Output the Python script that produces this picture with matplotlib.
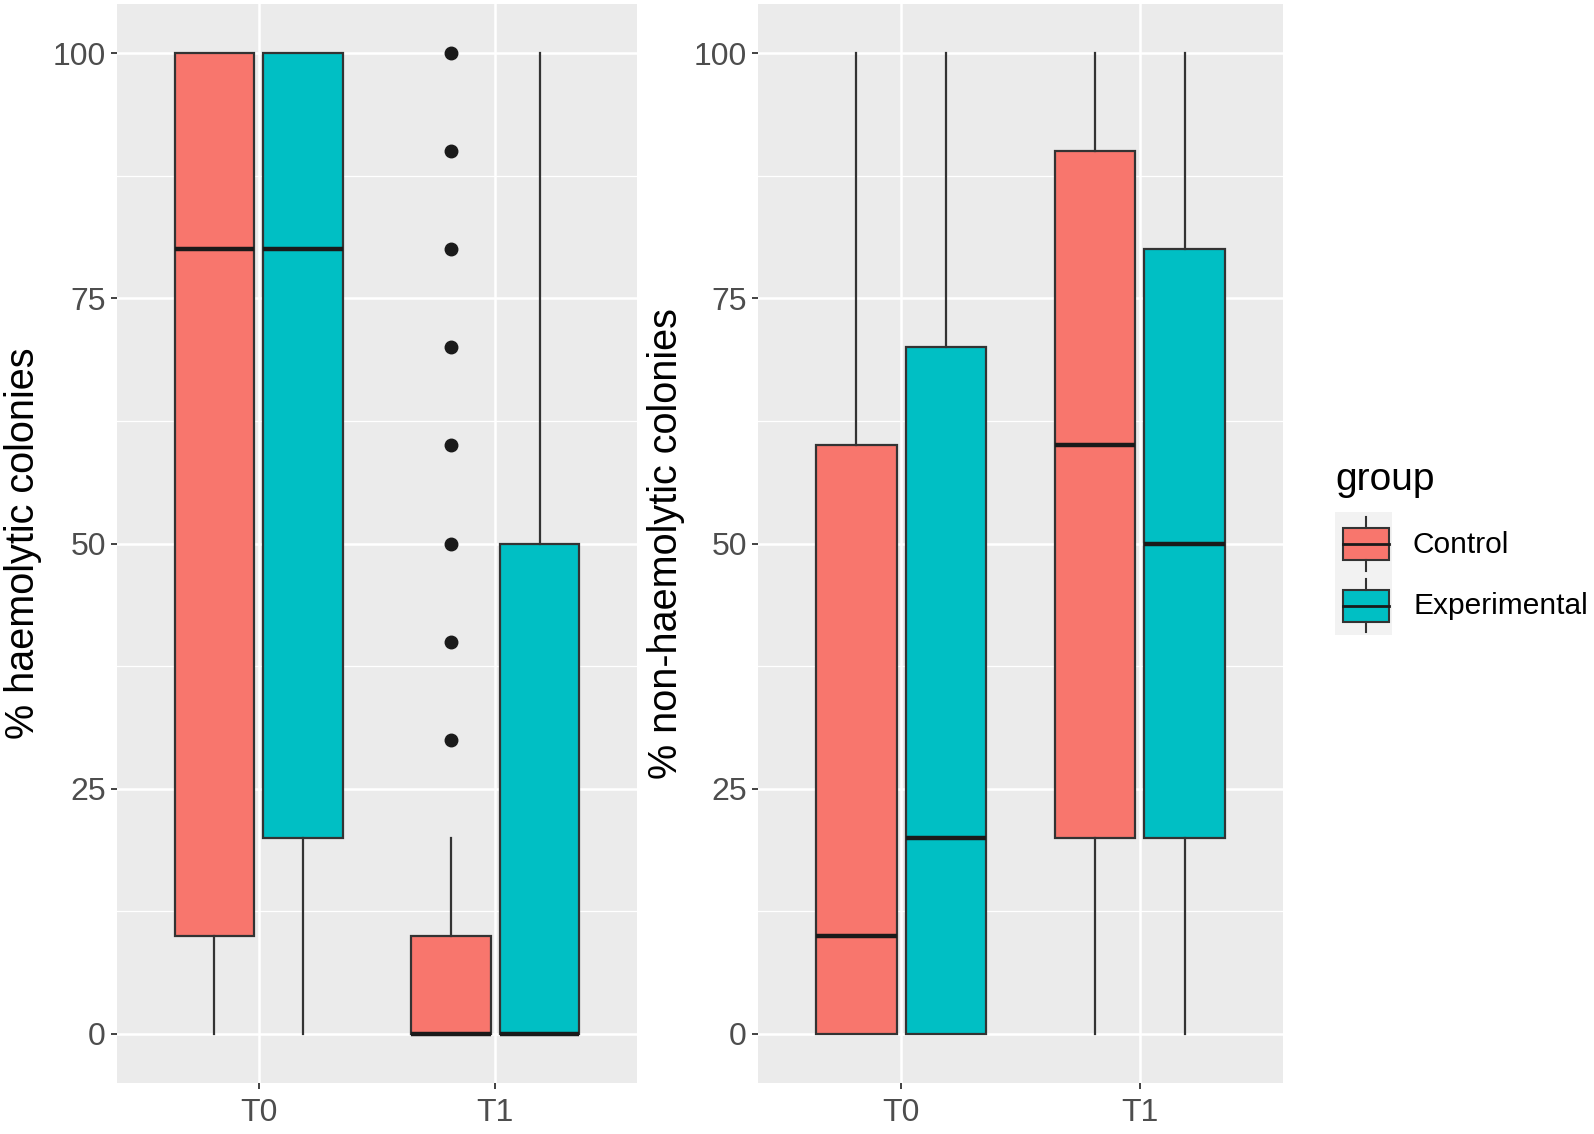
import matplotlib
matplotlib.use("Agg")
import matplotlib.pyplot as plt
from matplotlib.patches import Rectangle
import numpy as np

# ---------------- data ----------------
times = ["T0", "T1"]
groups = ["Control", "Experimental"]
# each row: [lower whisker, Q1, median, Q3, upper whisker] for T0, T1
haem_control = [[0, 10, 80, 100, 100], [0, 0, 0, 10, 20]]
haem_experimental = [[0, 20, 80, 100, 100], [0, 0, 0, 50, 100]]
haem_control_outliers = [[], [30, 40, 50, 60, 70, 80, 90, 100]]
haem_experimental_outliers = [[], []]
nonhaem_control = [[0, 0, 10, 60, 100], [0, 20, 60, 90, 100]]
nonhaem_experimental = [[0, 0, 20, 70, 100], [0, 20, 50, 80, 100]]
nonhaem_control_outliers = [[], []]
nonhaem_experimental_outliers = [[], []]
y_ticks = [0, 25, 50, 75, 100]
ylabels = ["% haemolytic colonies", "% non-haemolytic colonies"]
legend_title = "group"

colors = {"Control": "#F8766D", "Experimental": "#00BFC4"}

plt.rcParams['font.family'] = ['Liberation Sans', 'DejaVu Sans']

W, H = 1594, 1134
fig = plt.figure(figsize=(W / 100, H / 100), dpi=100)


def px_axes(x0, y0, x1, y1):
    return fig.add_axes([x0 / W, 1 - y1 / H, (x1 - x0) / W, (y1 - y0) / H])


def stats_list(rows, outl):
    out = []
    for r, o in zip(rows, outl):
        out.append(dict(whislo=r[0], q1=r[1], med=r[2], q3=r[3], whishi=r[4], fliers=o))
    return out


edge = "#333333"
box_w = 0.3375
offsets = [-0.1875, 0.1875]


def draw_panel(ax, ctrl, exp, ctrl_out, exp_out, ylabel, label_x):
    ax.set_facecolor("#EBEBEB")
    for s in ax.spines.values():
        s.set_visible(False)
    for g, rows, outl, off in [("Control", ctrl, ctrl_out, offsets[0]),
                               ("Experimental", exp, exp_out, offsets[1])]:
        pos = [i + 1 + off for i in range(len(times))]
        ax.bxp(stats_list(rows, outl), positions=pos, widths=box_w,
               patch_artist=True, showcaps=False, manage_ticks=False,
               boxprops=dict(facecolor=colors[g], edgecolor=edge, linewidth=1.6),
               medianprops=dict(color="#1A1A1A", linewidth=3.2, solid_capstyle='butt'),
               whiskerprops=dict(color=edge, linewidth=1.6),
               flierprops=dict(marker='o', markerfacecolor='#1A1A1A',
                               markeredgecolor='#1A1A1A', markersize=9))
    ax.set_xlim(0.4, len(times) + 0.6)
    ax.set_ylim(-5, 105)
    ax.set_xticks([i + 1 for i in range(len(times))])
    ax.set_xticklabels(times)
    ax.set_yticks(y_ticks)
    ax.set_yticklabels([str(v) for v in y_ticks])
    ax.set_yticks([12.5, 37.5, 62.5, 87.5], minor=True)
    ax.set_axisbelow(True)
    ax.grid(True, which='major', color='white', linewidth=1.8)
    ax.grid(True, which='minor', axis='y', color='white', linewidth=0.9)
    ax.tick_params(axis='both', which='major', length=4, width=1.3, color=edge,
                   labelsize=23, labelcolor='#4D4D4D')
    ax.tick_params(axis='x', pad=7)
    ax.tick_params(axis='y', pad=4)
    ax.tick_params(which='minor', length=0)
    ax.set_ylabel(ylabel, fontsize=28.5, color='black')
    ax.yaxis.set_label_coords(label_x, 0.5)
    ax.yaxis.label.set_verticalalignment('center')


ax1 = px_axes(117, 4, 637, 1083)
ax2 = px_axes(758, 4, 1283, 1083)
draw_panel(ax1, haem_control, haem_experimental, haem_control_outliers,
           haem_experimental_outliers, ylabels[0], (23 - 117) / 520)
draw_panel(ax2, nonhaem_control, nonhaem_experimental, nonhaem_control_outliers,
           nonhaem_experimental_outliers, ylabels[1], (666 - 758) / 525)

# ---------------- legend (drawn in pixel space) ----------------
lg = px_axes(1300, 440, 1594, 660)
lg.set_xlim(1300, 1594)
lg.set_ylim(660, 440)
lg.axis('off')
lg.text(1335, 480, legend_title, fontsize=28, va='center', ha='left', color='black')
key_top = 512
key_h = 61.5
for k, g in enumerate(groups):
    y0 = key_top + k * key_h
    lg.add_patch(Rectangle((1335, y0), 57, key_h, facecolor='#F2F2F2', edgecolor='none'))
    bx0, bx1 = 1343, 1389
    by0, by1 = y0 + 16, y0 + 48
    xc = (bx0 + bx1) / 2
    lg.plot([xc, xc], [y0 + 5, by0], color=edge, lw=1.5)
    lg.plot([xc, xc], [by1, y0 + key_h - 3], color=edge, lw=1.5)
    lg.add_patch(Rectangle((bx0, by0), bx1 - bx0, by1 - by0, facecolor=colors[g],
                           edgecolor=edge, linewidth=1.5))
    lg.plot([bx0, bx1], [(by0 + by1) / 2] * 2, color='#1A1A1A', lw=2.0)
    lg.text(1413, y0 + key_h / 2 + 2, g, fontsize=21.5, va='center', ha='left',
            color='black')

fig.savefig("out.png", dpi=100)
